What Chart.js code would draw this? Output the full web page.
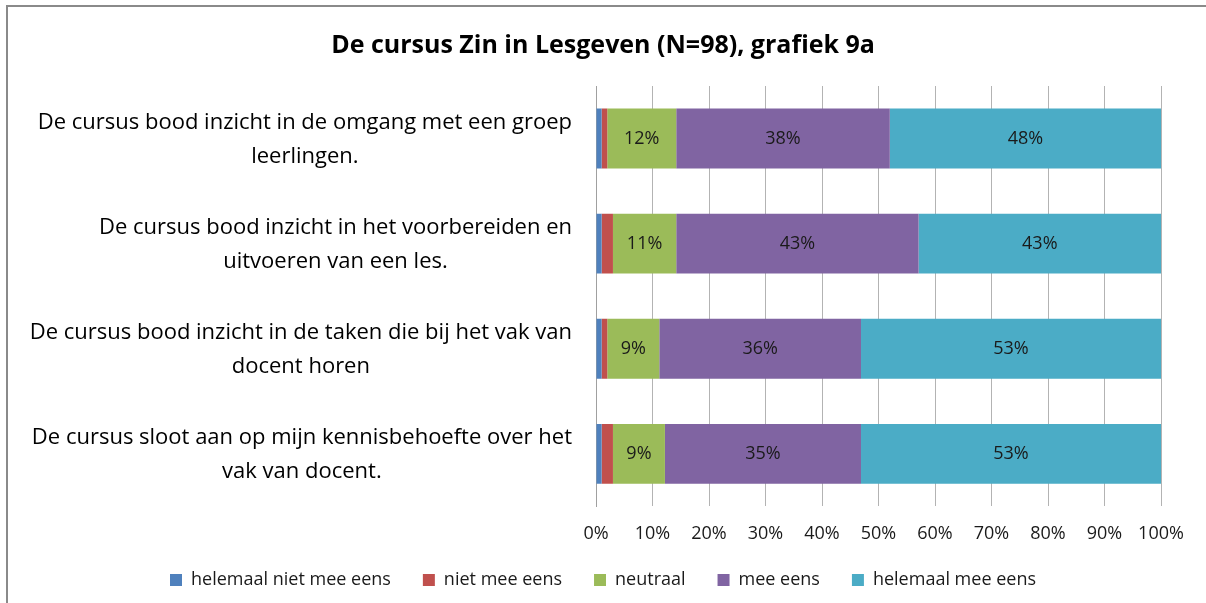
<!DOCTYPE html>
<html>
<head>
<meta charset="utf-8">
<script src="https://cdn.jsdelivr.net/npm/chart.js@4.4.0/dist/chart.umd.min.js"></script>
<style>
  body { margin: 0; background: #fff; overflow: hidden; }
  #wrap { width: 1206px; height: 603px; }
</style>
</head>
<body>
<div id="wrap"><canvas id="chart" width="1206" height="603"></canvas></div>
<script>
// categories (two lines each, as in the original)
var categories = [
    ['De cursus bood inzicht in de omgang met een groep', 'leerlingen.'],
    ['De cursus bood inzicht in het voorbereiden en', 'uitvoeren van een les.'],
    ['De cursus bood inzicht in de taken die bij het vak van', 'docent horen'],
    ['De cursus sloot aan op mijn kennisbehoefte over het', 'vak van docent.']
];
var seriesNames = ['helemaal niet mee eens', 'niet mee eens', 'neutraal', 'mee eens', 'helemaal mee eens'];

// percentages per category
var helemaalNiet = [1.0, 1.0, 1.0, 1.0];
var nietMee = [1.0, 2.0, 1.0, 2.0];
var neutraal = [12.2, 11.2, 9.2, 9.2];
var meeEens = [37.8, 42.9, 35.7, 34.7];
var helemaalMee = [48.0, 42.9, 53.1, 53.1];

var xTicks = [0, 10, 20, 30, 40, 50, 60, 70, 80, 90, 100];
var labelled = [false, false, true, true, true];

var colors = ['#4F81BD', '#C0504D', '#9BBB59', '#8064A2', '#4BACC6'];
var FONT = '"Open Sans", "Noto Sans", sans-serif';

// grey frame round the chart (only top and left visible)
var frame = {
    id: 'frame',
    beforeDraw: function(chart) {
        var ctx = chart.ctx;
        ctx.save();
        ctx.strokeStyle = '#8a8a8a';
        ctx.lineWidth = 2;
        ctx.beginPath();
        ctx.moveTo(7, 603);
        ctx.lineTo(7, 6);
        ctx.lineTo(1206, 6);
        ctx.stroke();
        ctx.restore();
    }
};

// category labels: block right aligned, lines centred inside it
var categoryLabels = {
    id: 'categoryLabels',
    afterDraw: function(chart) {
        var ctx = chart.ctx, y = chart.scales.y;
        ctx.save();
        ctx.font = '22px ' + FONT;
        ctx.fillStyle = '#000';
        ctx.textAlign = 'center';
        ctx.textBaseline = 'middle';
        categories.forEach(function(lines, i) {
            var cy = y.getPixelForValue(i);
            var w = Math.max.apply(null, lines.map(function(l) { return ctx.measureText(l).width; }));
            var cx = chart.chartArea.left - 24 - w / 2;
            lines.forEach(function(l, j) {
                ctx.fillText(l, cx, cy + 1 + (j - (lines.length - 1) / 2) * 34);
            });
        });
        ctx.restore();
    }
};

// value labels inside the bigger segments
var valueLabels = {
    id: 'valueLabels',
    afterDatasetsDraw: function(chart) {
        var ctx = chart.ctx;
        ctx.save();
        ctx.font = '18px ' + FONT;
        ctx.fillStyle = '#1a1a1a';
        ctx.textAlign = 'center';
        ctx.textBaseline = 'middle';
        chart.data.datasets.forEach(function(ds, di) {
            if (!labelled[di]) return;
            chart.getDatasetMeta(di).data.forEach(function(bar, i) {
                var cx = (bar.x + bar.base) / 2;
                ctx.fillText(Math.round(ds.data[i]) + '%', cx, bar.y);
            });
        });
        ctx.restore();
    }
};

var seriesData = [helemaalNiet, nietMee, neutraal, meeEens, helemaalMee];

new Chart(document.getElementById('chart'), {
    type: 'bar',
    data: {
        labels: categories,
        datasets: seriesNames.map(function(name, i) {
            return {
                label: name,
                data: seriesData[i],
                backgroundColor: colors[i],
                borderWidth: 0,
                barPercentage: 1,
                categoryPercentage: 0.57
            };
        })
    },
    options: {
        indexAxis: 'y',
        responsive: false,
        animation: false,
        layout: { padding: { left: 0, right: 0, top: 0, bottom: 4 } },
        scales: {
            x: {
                stacked: true,
                min: 0,
                max: 100,
                afterBuildTicks: function(s) {
                    s.ticks = xTicks.map(function(v) { return { value: v }; });
                },
                afterFit: function(s) { s.height -= 23; },
                ticks: {
                    callback: function(v) { return v + '%'; },
                    font: { family: FONT, size: 18 },
                    color: '#1a1a1a',
                    padding: 17,
                    maxRotation: 0
                },
                grid: { color: '#b3b3b3', drawTicks: false, tickLength: 0 },
                border: { display: false }
            },
            y: {
                stacked: true,
                afterFit: function(s) { s.width = 596; },
                ticks: { display: false },
                grid: { display: false },
                border: { display: true, color: '#a0a0a0' }
            },
            // empty strip on the right, keeps the plot at Excel's width
            yRight: {
                position: 'right',
                afterFit: function(s) { s.width = 45; },
                ticks: { display: false },
                grid: { display: false },
                border: { display: false }
            }
        },
        plugins: {
            title: {
                display: true,
                text: 'De cursus Zin in Lesgeven (N=98), grafiek 9a',
                font: { family: FONT, size: 25, weight: 'bold' },
                color: '#000',
                padding: { top: 31, bottom: 25 }
            },
            legend: {
                position: 'bottom',
                labels: {
                    font: { family: FONT, size: 18 },
                    color: '#1a1a1a',
                    boxWidth: 12,
                    boxHeight: 12,
                    padding: 32
                }
            },
            tooltip: { enabled: false }
        }
    },
    plugins: [frame, categoryLabels, valueLabels]
});
</script>
</body>
</html>
